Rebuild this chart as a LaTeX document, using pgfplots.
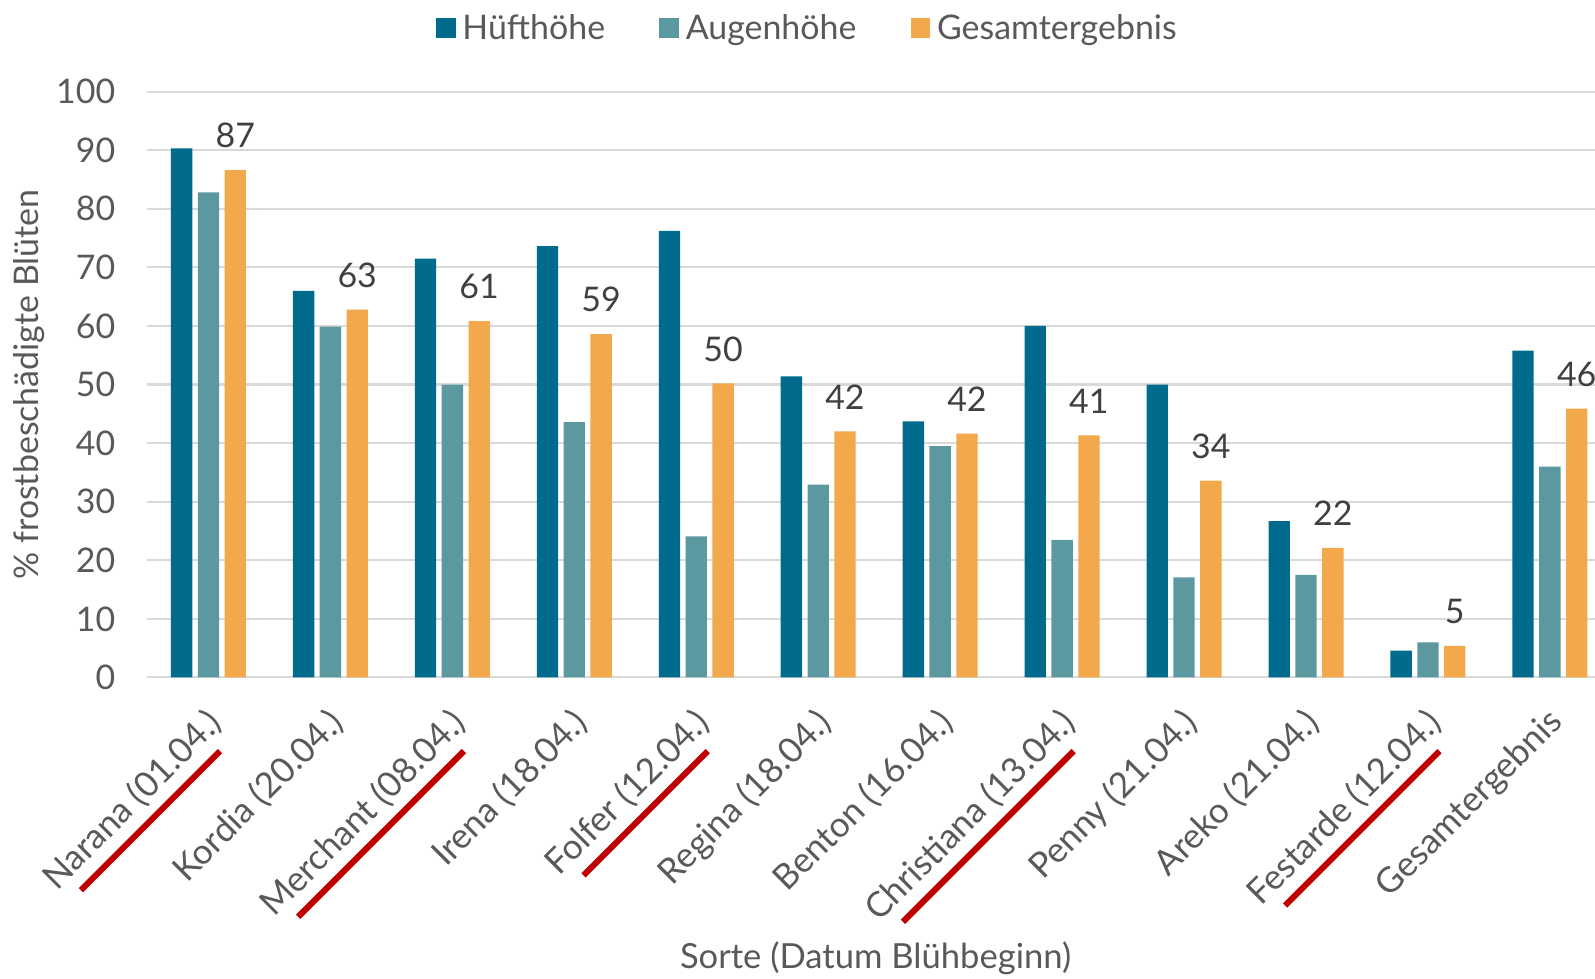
\documentclass[border=0pt]{standalone}
\usepackage{pgfplots}
\pgfplotsset{compat=1.18}
\usepackage{pgfplotstable}
\usepackage{fontspec}
\setmainfont{Lato}
\definecolor{cH}{HTML}{006B8C}
\definecolor{cA}{HTML}{5B98A0}
\definecolor{cG}{HTML}{F4A84C}
\definecolor{txt}{HTML}{595959}
\definecolor{lbl}{HTML}{404040}
\definecolor{grd}{HTML}{D9D9D9}
\definecolor{ulred}{HTML}{C00000}
\newcommand\rul[1]{\setbox0\hbox{#1}\rlap{\hspace{0.5em}\textcolor{ulred}{\rule[-5.6pt]{\dimexpr\wd0-1.1em\relax}{1.8pt}}}\box0}
\pgfplotstableread{
x H A G
0 90.3 82.8 86.6
1 66.0 59.9 62.8
2 71.5 50.0 60.8
3 73.6 43.6 58.6
4 76.2 24.1 50.2
5 51.4 32.9 42.0
6 43.7 39.5 41.6
7 60.0 23.5 41.3
8 50.0 17.1 33.6
9 26.7 17.5 22.1
10 4.6 6.0 5.4
11 55.8 36.0 45.9
}\data
\begin{document}
\begin{tikzpicture}
\begin{axis}[
  scale only axis, width=426.9pt, height=172.8pt,
  ymin=0, ymax=100, xmin=-0.5, xmax=11.37,
  ytick={0,10,...,100},
  xtick={0,...,11},
  xticklabels={\rul{Narana (01.04.)},Kordia (20.04.),\rul{Merchant (08.04.)},Irena (18.04.),\rul{Folfer (12.04.)},Regina (18.04.),Benton (16.04.),\rul{Christiana (13.04.)},Penny (21.04.),Areko (21.04.),\rul{Festarde (12.04.)},Gesamtergebnis},
  ymajorgrids, grid style={grd, line width=0.6pt},
  axis line style={draw=none},
  major tick length=0pt,
  tick label style={color=txt, font=\fontsize{10}{12}\selectfont},
  /pgf/number format/assume math mode=true,
  yticklabel style={xshift=-6pt},
  xticklabel style={xshift=-1.2pt, yshift=-8.1pt, rotate=45, anchor=north east, inner sep=0pt, font=\fontsize{10.3}{12}\selectfont},
  ylabel={\% frostbeschädigte Blüten},
  ylabel style={at={(axis description cs:-0.082,0.5)}, anchor=center, color=txt, font=\fontsize{10}{12}\selectfont},
  xlabel={Sorte (Datum Blühbeginn)},
  xlabel style={at={(axis description cs:0.503,-0.479)}, anchor=center, color=txt, font=\fontsize{10.2}{12}\selectfont},
  bar width=0.175,
  legend columns=3,
  legend style={at={(axis description cs:0.4575,1)}, anchor=south, yshift=9.7pt, draw=none, fill=none,
    font=\fontsize{10}{12}\selectfont, text=txt,
    /tikz/every even column/.append style={column sep=14pt}},
  legend image code/.code={\fill[#1,draw=none] (0pt,-2.4pt) rectangle (5.8pt,3.4pt);},
]
\addplot[ybar, bar shift=-0.22, fill=cH, draw=none] table[x=x,y=H]{\data};
\addlegendentry{Hüfthöhe}
\addplot[ybar, bar shift=0, fill=cA, draw=none] table[x=x,y=A]{\data};
\addlegendentry{Augenhöhe}
\addplot[ybar, bar shift=0.22, fill=cG, draw=none,
  nodes near coords={\pgfmathprintnumber[fixed,precision=0]{\pgfplotspointmeta}},
  every node near coord/.append style={anchor=south, inner sep=0pt, xshift=7.9pt, yshift=6.3pt, color=lbl, font=\fontsize{10}{12}\selectfont}
  ] table[x=x,y=G]{\data};
\addlegendentry{Gesamtergebnis}
\end{axis}
\pgfresetboundingbox
\path (current axis.south west) ++(-43.5pt,-88.8pt) rectangle ([yshift=27pt]current axis.north east);
\end{tikzpicture}
\end{document}
